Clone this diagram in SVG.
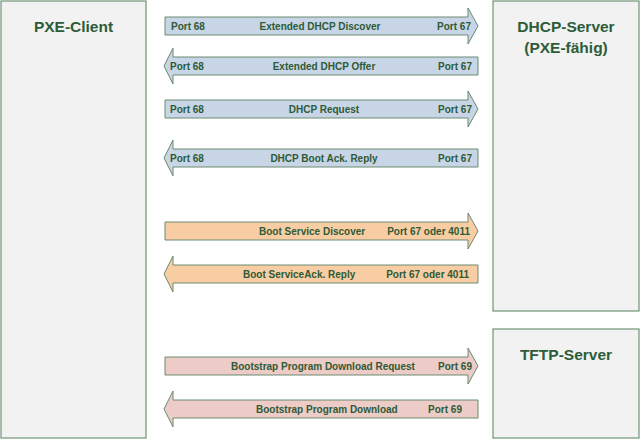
<svg xmlns="http://www.w3.org/2000/svg" xmlns:xlink="http://www.w3.org/1999/xlink" width="640" height="439" viewBox="0 0 640 439">
<style>
.box{fill:#f2f2f2;stroke:#6f9474;stroke-width:1.2}
.title{font-family:"Liberation Sans",Arial,sans-serif;font-weight:bold;font-size:15.5px;fill:#2d5c38;text-anchor:middle}
.lbl{font-family:"Liberation Sans",Arial,sans-serif;font-weight:bold;font-size:10px;fill:#2f5a36}
.blue{fill:#c7d5e7;stroke:#6a8a70;stroke-width:1}
.orange{fill:#f9cda3;stroke:#6a8a70;stroke-width:1}
.pink{fill:#edcbc6;stroke:#6a8a70;stroke-width:1}
.mid{text-anchor:middle}
.end{text-anchor:end}
</style>
<defs>
<path id="ar" d="M165,-9 H468 V-18 L478,0 L468,18 V9 H165 Z"/>
<path id="al" d="M478,-9 H173 V-18 L164,0 L173,18 V9 H478 Z"/>
</defs>
<rect width="640" height="439" fill="#ffffff"/>
<g id="pxe-client">
<rect class="box" x="1" y="1" width="145" height="437"/>
<text class="title" x="73.5" y="32">PXE-Client</text>
</g>
<g id="dhcp-server">
<rect class="box" x="493" y="1" width="146" height="310"/>
<text class="title" x="566" y="32">DHCP-Server</text>
<text class="title" x="566" y="53">(PXE-fähig)</text>
</g>
<g id="tftp-server">
<rect class="box" x="493" y="329" width="146" height="109"/>
<text class="title" x="566" y="360">TFTP-Server</text>
</g>
<g id="connectors">
<g id="a1"><use xlink:href="#ar" class="blue" transform="translate(0,26)"/>
<text class="lbl" x="171" y="29.5">Port 68</text><text class="lbl mid" x="320" y="29.5">Extended DHCP Discover</text><text class="lbl end" x="471" y="29.5">Port 67</text></g>
<g id="a2"><use xlink:href="#al" class="blue" transform="translate(0,66)"/>
<text class="lbl" x="170" y="69.5">Port 68</text><text class="lbl mid" x="324" y="69.5">Extended DHCP Offer</text><text class="lbl end" x="472" y="69.5">Port 67</text></g>
<g id="a3"><use xlink:href="#ar" class="blue" transform="translate(0,109)"/>
<text class="lbl" x="170" y="112.5">Port 68</text><text class="lbl mid" x="324" y="112.5">DHCP Request</text><text class="lbl end" x="472" y="112.5">Port 67</text></g>
<g id="a4"><use xlink:href="#al" class="blue" transform="translate(0,158)"/>
<text class="lbl" x="170" y="161.5">Port 68</text><text class="lbl mid" x="324" y="161.5">DHCP Boot Ack. Reply</text><text class="lbl end" x="472" y="161.5">Port 67</text></g>
<g id="a5"><use xlink:href="#ar" class="orange" transform="translate(0,231)"/>
<text class="lbl" x="259" y="234.5">Boot Service Discover</text><text class="lbl end" x="470" y="234.5">Port 67 oder 4011</text></g>
<g id="a6"><use xlink:href="#al" class="orange" transform="translate(0,274)"/>
<text class="lbl" x="243" y="277.5">Boot ServiceAck. Reply</text><text class="lbl end" x="469" y="277.5">Port 67 oder 4011</text></g>
<g id="a7"><use xlink:href="#ar" class="pink" transform="translate(0,366)"/>
<text class="lbl" x="231" y="369.5">Bootstrap Program Download Request</text><text class="lbl end" x="472" y="369.5">Port 69</text></g>
<g id="a8"><use xlink:href="#al" class="pink" transform="translate(0,409)"/>
<text class="lbl" x="256" y="412.5">Bootstrap Program Download</text><text class="lbl end" x="462" y="412.5">Port 69</text></g>
</g>
</svg>
